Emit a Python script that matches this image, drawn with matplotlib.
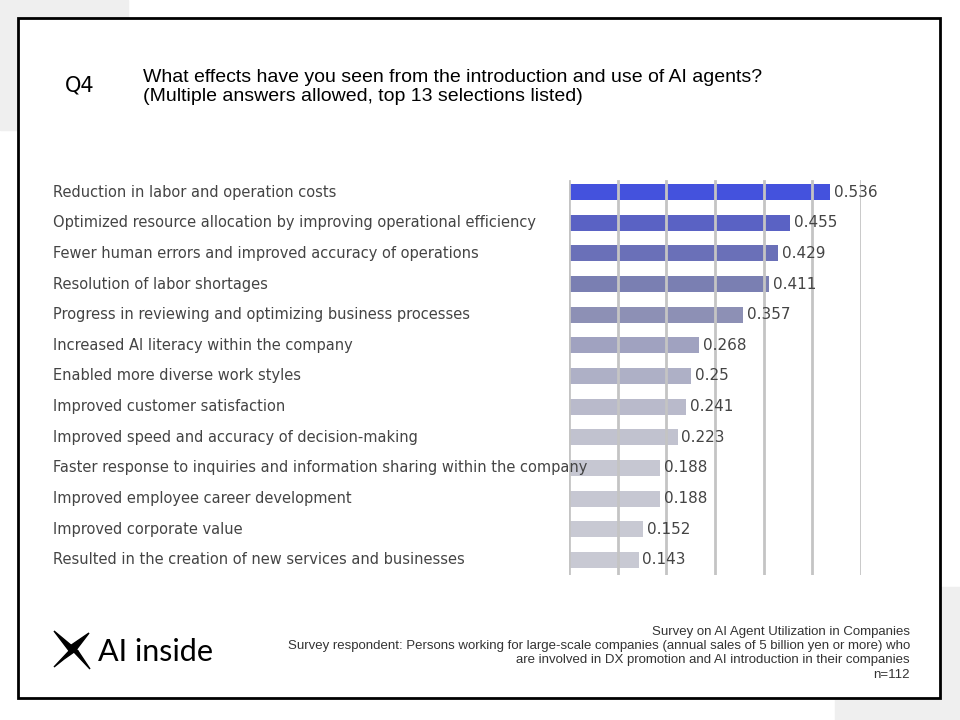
import matplotlib
matplotlib.use("Agg")
import matplotlib.pyplot as plt
from matplotlib.patches import Rectangle, Polygon
from matplotlib.transforms import blended_transform_factory
import numpy as np

categories = [
    "Reduction in labor and operation costs",
    "Optimized resource allocation by improving operational efficiency",
    "Fewer human errors and improved accuracy of operations",
    "Resolution of labor shortages",
    "Progress in reviewing and optimizing business processes",
    "Increased AI literacy within the company",
    "Enabled more diverse work styles",
    "Improved customer satisfaction",
    "Improved speed and accuracy of decision-making",
    "Faster response to inquiries and information sharing within the company",
    "Improved employee career development",
    "Improved corporate value",
    "Resulted in the creation of new services and businesses",
]
values = [0.536, 0.455, 0.429, 0.411, 0.357, 0.268, 0.25, 0.241, 0.223, 0.188, 0.188, 0.152, 0.143]
colors = ["#4452dd", "#5a62c4", "#6a70b8", "#7a7fb2", "#8d90b5", "#a0a2c0", "#aeb0c6",
          "#b9bacb", "#c1c2cf", "#c6c7d2", "#c6c7d2", "#c8c9d3", "#c8c9d3"]

W, H = 960, 720
fig = plt.figure(figsize=(9.6, 7.2), dpi=100)
fig.patch.set_facecolor("white")

def fx(x): return x / W
def fy(y): return 1 - y / H

# decorations
fig.add_artist(Rectangle((0, fy(130)), fx(128), 130 / H, transform=fig.transFigure, color="#efefef", zorder=0))
fig.add_artist(Rectangle((fx(835), 0), 125 / W, 133 / H, transform=fig.transFigure, color="#efefef", zorder=0))
fig.add_artist(Rectangle((fx(18), fy(698)), 922 / W, 680 / H, transform=fig.transFigure,
                         facecolor="white", edgecolor="black", lw=2, zorder=1))

fig.text(fx(80), fy(86), "Q4", fontsize=15, ha="center", va="center", zorder=3)
fig.text(fx(143), fy(87), "What effects have you seen from the introduction and use of AI agents?\n(Multiple answers allowed, top 13 selections listed)",
         fontsize=14, ha="left", va="center", linespacing=1.2, zorder=3, family="Liberation Sans")

# chart
step = 30.65
top = 192 - step / 2
bot = 560 + step / 2
ax = fig.add_axes([fx(569), fy(bot), (861 - 569) / W, (bot - top) / H], zorder=2)
ax.set_facecolor("none")
y = np.arange(len(values))
ax.barh(y, values, height=16 / step, color=colors, zorder=1)
ax.set_xlim(0, 0.6)
ax.set_ylim(len(values) - 0.5, -0.5)
for g in np.arange(0, 0.61, 0.1):
    ax.axvline(g, color="#c4c4c4", lw=2, zorder=2, ymin=-0.01, ymax=0.99)
for s in ax.spines.values():
    s.set_visible(False)
ax.set_xticks([]); ax.set_yticks([])
for i, v in enumerate(values):
    ax.text(v + 0.008, i, f"{v:g}", va="center", ha="left", fontsize=11, color="#444444", zorder=3)
tr = blended_transform_factory(fig.transFigure, ax.transData)
for i, c in enumerate(categories):
    ax.text(fx(53), i, c, transform=tr, va="center", ha="left", fontsize=10.5, color="#444444", clip_on=False)

# footer
fig.text(fx(910), fy(626), "Survey on AI Agent Utilization in Companies\n"
         "Survey respondent: Persons working for large-scale companies (annual sales of 5 billion yen or more) who\n"
         "are involved in DX promotion and AI introduction in their companies\nn=112",
         ha="right", va="top", fontsize=9.5, linespacing=1.25, color="#333333", zorder=3, family="Liberation Sans")

# logo
X = [(55, 632), (90, 650), (80, 640)]
fig.add_artist(Polygon([(fx(54), fy(631)), (fx(78), fy(651)), (fx(70), fy(652))], closed=True,
                       transform=fig.transFigure, color="black", zorder=3))
fig.add_artist(Polygon([(fx(89), fy(633)), (fx(70), fy(646)), (fx(76), fy(650))], closed=True,
                       transform=fig.transFigure, color="black", zorder=3))
fig.add_artist(Polygon([(fx(70), fy(646)), (fx(78), fy(651)), (fx(90), fy(669)), (fx(74), fy(652))], closed=True,
                       transform=fig.transFigure, color="black", zorder=3))
fig.add_artist(Polygon([(fx(74), fy(652)), (fx(64), fy(659)), (fx(54), fy(667)), (fx(70), fy(650))], closed=True,
                       transform=fig.transFigure, color="black", zorder=3))
fig.text(fx(98), fy(652), "AI inside", fontsize=22, ha="left", va="center", zorder=3, family="Lato")

fig.savefig("out.png", dpi=100)
